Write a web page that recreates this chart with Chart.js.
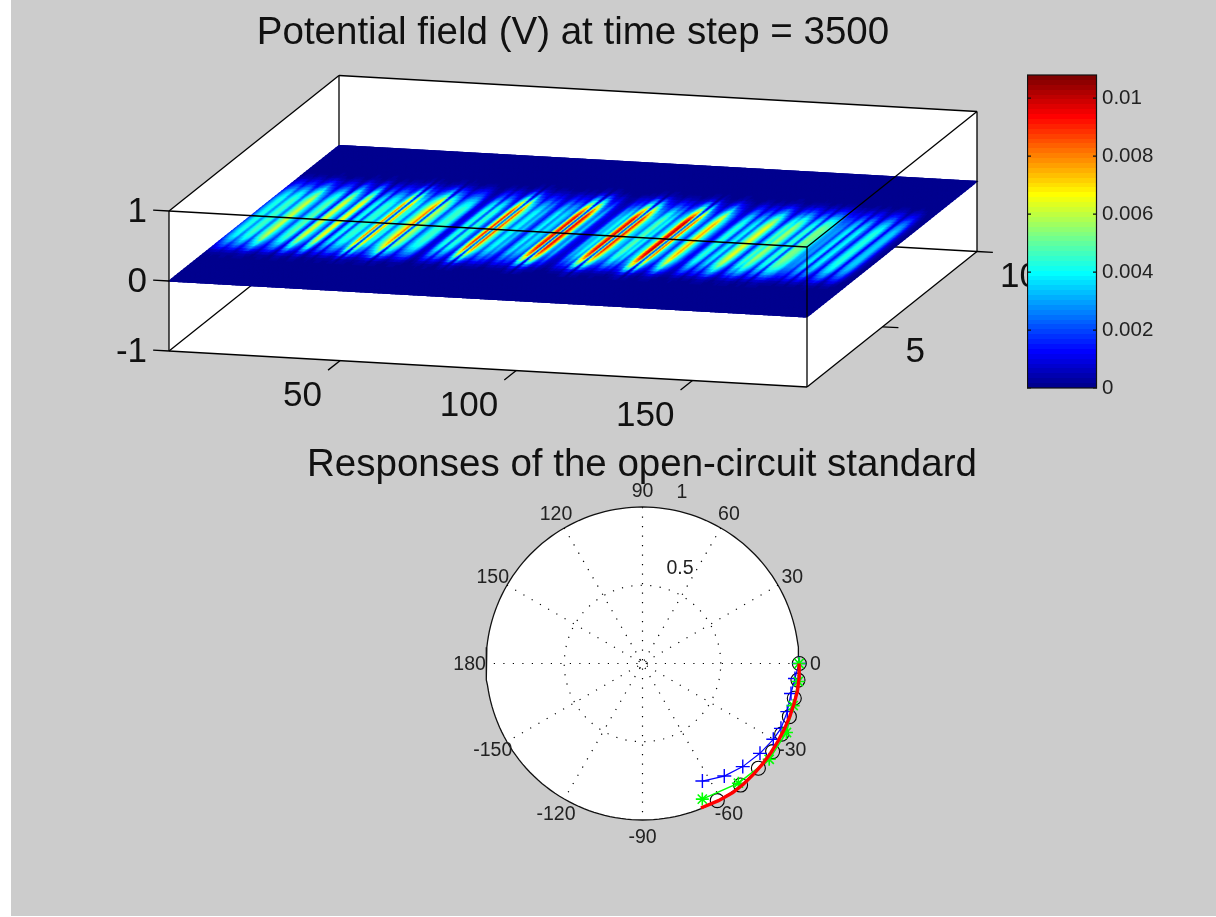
<!DOCTYPE html>
<html>
<head>
<meta charset="utf-8">
<title>Potential field</title>
<script src="https://cdn.jsdelivr.net/npm/chart.js@4"></script>
<style>
    html, body { margin: 0; padding: 0; background: #fff; }
    #page { position: absolute; left: 11px; top: 0; width: 1205px; height: 916px; background: #cccccc; }
    canvas { position: absolute; left: 0; top: 0; filter: blur(0.4px); }
    #fieldBox { position: absolute; left: 0; top: 0; width: 1146px; height: 440px; }
    #colorBox { position: absolute; left: 1027px; top: 60px; width: 150px; height: 340px; }
    #polarBox { position: absolute; left: 242px; top: 440px; width: 800px; height: 410px; }
</style>
</head>
<body>
<div id="page"></div>
<div id="fieldBox"><canvas id="fieldChart" width="1146" height="440"></canvas></div>
<div id="colorBox"><canvas id="colorChart" width="150" height="340"></canvas></div>
<div id="polarBox"><canvas id="polarChart" width="800" height="410"></canvas></div>
<script>
// Peak potential of each column along x (in mV), columns 1 to 182
var columnPeaks = [
    1.6,3.0,4.0,4.4,2.6,4.0,4.8,4.2,2.2,4.2,5.4,6.4,4.2,3.2,1.8,3.6,4.6,5.0,3.0,1.2,5.4,6.6,4.2,3.0,1.6,5.8,6.8,3.2,1.0,3.6,4.4,1.6,4.0,4.6,4.2,2.8,4.2,
    8.6,1.0,8.0,4.2,4.4,2.2,3.8,5.0,6.6,8.4,1.0,6.2,5.2,4.0,1.8,3.2,4.2,4.6,4.4,3.0,1.2,0.8,1.6,3.8,4.6,1.8,4.6,4.2,2.4,1.6,5.8,9.6,1.2,9.2,5.2,4.0,2.2,
    3.8,4.2,2.8,3.6,2.0,1.4,3.2,4.2,2.6,3.8,3.4,2.0,8.0,9.8,0.8,10,7.6,3.6,2.4,3.6,1.6,1.0,0.8,1.4,3.4,3.0,4.4,2.8,8.2,10,1.0,9.6,6.8,4.0,3.4,2.4,
    4.4,5.0,3.4,4.2,2.0,3.6,4.6,9.0,10.2,1.0,9.0,4.2,3.0,1.6,3.6,5.8,7.8,4.8,3.6,2.2,1.2,1.4,3.4,4.6,3.8,1.6,3.4,4.2,2.0,4.2,5.6,6.6,4.8,3.0,1.4,3.4,5.0,4.0,
    5.8,5.0,3.6,1.8,4.2,4.6,1.6,4.8,5.4,5.0,4.4,3.0,2.8,3.0,1.8,3.6,4.0,1.2,3.6,4.0,2.4,1.2,3.4,4.2,4.4,3.0,1.0,3.0,3.6,3.2,1.8,0.6,0.2,0.1
];
// Share of the peak reached on each row, y = 1 to 10 in steps of 0.5
var rowEnvelope = [0,0,0,0,0.08,0.55,0.9,1,1,1,1,1,0.8,0.4,0.06,0,0,0,0];

var xTicks = [50, 100, 150];
var yTicks = [5, 10];
var zTicks = [-1, 0, 1];
var colorTicks = [0, 0.002, 0.004, 0.006, 0.008, 0.01];
var colorMax = 0.0108;

// Polar responses: magnitude and angle in degrees
var openMag = [1.002, 0.999, 0.995, 0.998, 0.997, 1.004, 0.998, 0.998, 0.998];
var openAngle = [0, -6.1, -12.9, -19.9, -26.9, -34.1, -42.1, -51.1, -61.4];
var blueMag = [1.0, 0.979, 0.968, 0.975, 0.977, 0.966, 0.945, 0.919, 0.889, 0.843];
var blueAngle = [0, -5.6, -11.4, -18.4, -25.1, -30.1, -37.4, -45.8, -54, -63];
var greenMag = [1.0, 1.002, 1.0, 1.02, 1.015, 0.98, 0.947];
var greenAngle = [0, -6.6, -15.6, -25.6, -37.1, -51.3, -66.2];
var redMag = [1.0, 1.005, 1.005, 1.002, 1.0, 0.999, 0.998, 0.999, 1.0, 1.002, 1.005, 1.006, 1.002, 0.996];
var redAngle = [0, -5, -10, -15, -20, -25, -30, -35, -40, -45, -50, -55, -61, -68];

var spokeAngles = [0, 30, 60, 90, 120, 150];
var gridRadii = [0.03, 0.5];
var angleLabels = [0, 30, 60, 90, 120, 150, 180, -150, -120, -90, -60, -30];

var FONT = '"Liberation Sans", Arial, sans-serif';

Chart.defaults.animation = false;
Chart.defaults.responsive = false;
Chart.defaults.maintainAspectRatio = false;
Chart.defaults.font.family = FONT;
Chart.defaults.layout.autoPadding = false;

// MATLAB jet colormap, 64 levels
function jet(t) {
    var i = Math.min(63, Math.floor(t * 64));
    var v = (i + 1) / 64;
    function ch(c) { return Math.round(255 * Math.max(0, Math.min(1, 1.5 - Math.abs(4 * v - c)))); }
    return 'rgb(' + ch(3) + ',' + ch(2) + ',' + ch(1) + ')';
}

// ---- 3D box: oblique projection into the chart's screen-like scales ----
var xMin = 1.5, xMax = 182.5;
function project(x, y, z) {
    var fx = (x - xMin) / (xMax - xMin);
    var fy = (y - 1) / 9;
    return { x: 169 + 638 * fx + 170 * fy, y: 281 + 36 * fx - 135.5 * fy - 70 * z };
}
function edge(a, b) {
    return {
        data: [project(a[0], a[1], a[2]), project(b[0], b[1], b[2])],
        showLine: true, borderColor: '#000', borderWidth: 1.3, pointRadius: 0
    };
}
var backEdges = [
    [[xMin, 1, -1], [xMin, 10, -1]],
    [[xMin, 10, -1], [xMin, 10, 1]],
    [[xMin, 10, -1], [xMax, 10, -1]]
];
var frontEdges = [
    [[xMin, 1, 1], [xMax, 1, 1]],
    [[xMin, 1, -1], [xMax, 1, -1]],
    [[xMin, 1, -1], [xMin, 1, 1]],
    [[xMax, 1, -1], [xMax, 1, 1]],
    [[xMin, 1, 1], [xMin, 10, 1]],
    [[xMin, 10, 1], [xMax, 10, 1]],
    [[xMax, 1, 1], [xMax, 10, 1]],
    [[xMax, 1, -1], [xMax, 10, -1]],
    [[xMax, 10, -1], [xMax, 10, 1]]
];
xTicks.forEach(function(t) { frontEdges.push([[t, 1, -1], [t, 0.37, -1]]); });
yTicks.forEach(function(t) { frontEdges.push([[xMax, t, -1], [xMax + 4.5, t, -1]]); });
zTicks.forEach(function(t) { frontEdges.push([[xMin, 1, t], [xMin - 4.5, 1, t]]); });

var fieldDatasets = [];
frontEdges.forEach(function(e) { var d = edge(e[0], e[1]); d.order = 1; fieldDatasets.push(d); });
fieldDatasets.push({ isSurface: true, order: 2, pointRadius: 0, data: [project(xMin, 1, 0), project(xMax, 10, 0)] });
backEdges.forEach(function(e) { var d = edge(e[0], e[1]); d.order = 3; fieldDatasets.push(d); });

function fieldValue(cx, ry) {
    var c0 = Math.min(columnPeaks.length - 1, Math.floor(cx)), c1 = Math.min(columnPeaks.length - 1, c0 + 1);
    var r0 = Math.min(rowEnvelope.length - 1, Math.floor(ry)), r1 = Math.min(rowEnvelope.length - 1, r0 + 1);
    var peak = columnPeaks[c0] + (columnPeaks[c1] - columnPeaks[c0]) * (cx - c0);
    var share = rowEnvelope[r0] + (rowEnvelope[r1] - rowEnvelope[r0]) * (ry - r0);
    return peak * share * 0.001;
}

var surfacePlugin = {
    id: 'surface',
    beforeDatasetsDraw: function(chart) {
        // white walls of the box
        var ctx = chart.ctx, sx = chart.scales.x, sy = chart.scales.y;
        var walls = [[xMin,1,1],[xMin,10,1],[xMax,10,1],[xMax,10,-1],[xMax,1,-1],[xMin,1,-1]];
        ctx.save();
        ctx.fillStyle = '#fff';
        ctx.beginPath();
        walls.forEach(function(w, i) {
            var p = project(w[0], w[1], w[2]);
            if (i === 0) ctx.moveTo(sx.getPixelForValue(p.x), sy.getPixelForValue(p.y));
            else ctx.lineTo(sx.getPixelForValue(p.x), sy.getPixelForValue(p.y));
        });
        ctx.closePath();
        ctx.fill();
        ctx.restore();
    },
    afterDatasetDraw: function(chart, args) {
        if (!chart.data.datasets[args.index].isSurface) return;
        var ctx = chart.ctx, sx = chart.scales.x, sy = chart.scales.y;
        var subCols = 3, subRows = 3;
        var nc = (columnPeaks.length - 1) * subCols, nr = (rowEnvelope.length - 1) * subRows;
        function pix(i, j) {
            var x = xMin + (xMax - xMin) * i / nc, y = 1 + 9 * j / nr;
            var p = project(x, y, 0);
            return [sx.getPixelForValue(p.x), sy.getPixelForValue(p.y)];
        }
        ctx.save();
        ctx.lineWidth = 1.2;
        for (var i = 0; i < nc; i++) {
            for (var j = 0; j < nr; j++) {
                var v = fieldValue((i + 0.5) / subCols, (j + 0.5) / subRows);
                var c = jet(Math.min(0.999, v / colorMax));
                var a = pix(i, j), b = pix(i + 1, j), d = pix(i + 1, j + 1), e = pix(i, j + 1);
                ctx.fillStyle = c;
                ctx.strokeStyle = c;
                ctx.beginPath();
                ctx.moveTo(a[0], a[1]);
                ctx.lineTo(b[0], b[1]);
                ctx.lineTo(d[0], d[1]);
                ctx.lineTo(e[0], e[1]);
                ctx.closePath();
                ctx.fill();
                ctx.stroke();
            }
        }
        ctx.restore();
    },
    afterDraw: function(chart) {
        // tick labels of the three box axes
        var ctx = chart.ctx, sx = chart.scales.x, sy = chart.scales.y;
        function label(text, p, dx, dy, align) {
            ctx.textAlign = align;
            ctx.fillText(text, sx.getPixelForValue(p.x) + dx, sy.getPixelForValue(p.y) + dy);
        }
        ctx.save();
        ctx.font = '35px ' + FONT;
        ctx.fillStyle = '#111';
        ctx.textBaseline = 'middle';
        xTicks.forEach(function(t) { label(String(t), project(t, 1, -1), -18, 36, 'right'); });
        yTicks.forEach(function(t) { label(String(t), project(xMax, t, -1), 23, 26, 'left'); });
        zTicks.forEach(function(t) { label(String(t), project(xMin, 1, t), -22, 1, 'right'); });
        ctx.restore();
    }
};

new Chart(document.getElementById('fieldChart'), {
    type: 'scatter',
    data: { datasets: fieldDatasets },
    options: {
        layout: { padding: 0 },
        plugins: {
            legend: { display: false },
            tooltip: { enabled: false },
            title: {
                display: true,
                text: 'Potential field (V) at time step = 3500',
                color: '#111',
                font: { size: 38.5, weight: 'normal', lineHeight: '40px' },
                padding: { top: 13, bottom: 7 }
            }
        },
        scales: {
            x: { type: 'linear', display: false, min: 0, max: 1146 },
            y: { type: 'linear', display: false, min: 60, max: 440, reverse: true }
        }
    },
    plugins: [surfacePlugin]
});

// ---- Colorbar ----
var colorLevels = [];
for (var k = 0; k < 64; k++) colorLevels.push(jet((k + 0.5) / 64));

var colorbarPlugin = {
    id: 'colorbarFrame',
    afterDatasetsDraw: function(chart) {
        var ctx = chart.ctx, area = chart.chartArea, sy = chart.scales.y;
        ctx.save();
        ctx.strokeStyle = '#111';
        ctx.lineWidth = 1.2;
        ctx.strokeRect(area.left + 0.5, area.top, area.width - 1, area.height);
        ctx.beginPath();
        colorTicks.forEach(function(t) {
            var py = sy.getPixelForValue(t);
            ctx.moveTo(area.left, py);
            ctx.lineTo(area.left + 4, py);
            ctx.moveTo(area.right - 4, py);
            ctx.lineTo(area.right, py);
        });
        ctx.stroke();
        ctx.restore();
    }
};

new Chart(document.getElementById('colorChart'), {
    type: 'bar',
    data: {
        labels: ['V'],
        datasets: [{
            data: [[0, colorMax]],
            barPercentage: 1,
            categoryPercentage: 1,
            backgroundColor: function(context) {
                var area = context.chart.chartArea;
                if (!area) return '#000080';
                var g = context.chart.ctx.createLinearGradient(0, area.bottom, 0, area.top);
                colorLevels.forEach(function(c, i) {
                    g.addColorStop(i / 64, c);
                    g.addColorStop((i + 1) / 64, c);
                });
                return g;
            }
        }]
    },
    options: {
        layout: { padding: { top: 15, bottom: 12 } },
        plugins: { legend: { display: false }, tooltip: { enabled: false } },
        scales: {
            x: { display: false },
            y: {
                position: 'right',
                min: 0,
                max: colorMax,
                grid: { display: false },
                border: { display: false },
                afterBuildTicks: function(axis) {
                    axis.ticks = colorTicks.map(function(t) { return { value: t }; });
                },
                afterFit: function(axis) {
                    axis.width = 80;
                    axis.paddingTop = 0;
                    axis.paddingBottom = 0;
                },
                ticks: {
                    color: '#222',
                    padding: -3,
                    autoSkip: false,
                    font: { size: 20.5 },
                    callback: function(value) { return String(value); }
                }
            }
        }
    },
    plugins: [colorbarPlugin]
});

// ---- Polar plot ----
var polarCx = 642.5, polarCy = 663.5, polarR = 156.5;
var polarLeft = 242, polarTop = 440, polarW = 800, polarH = 410, polarTitle = 50;

function toXY(mags, angles) {
    return mags.map(function(m, i) {
        var a = angles[i] * Math.PI / 180;
        return { x: m * Math.cos(a), y: m * Math.sin(a) };
    });
}
function ring(r) {
    var pts = [];
    for (var a = 0; a <= 360; a += 2) {
        pts.push({ x: r * Math.cos(a * Math.PI / 180), y: r * Math.sin(a * Math.PI / 180) });
    }
    return pts;
}

var polarDatasets = [
    { data: toXY(redMag, redAngle), showLine: true, borderColor: '#ff0000', borderWidth: 3.4, pointRadius: 0, order: 1 },
    { data: toXY(greenMag, greenAngle), showLine: true, borderColor: '#00ff00', borderWidth: 1.5, pointStyle: 'star', pointRadius: 6.5, pointBorderColor: '#00ff00', pointBorderWidth: 1.6, order: 2 },
    { data: toXY(blueMag, blueAngle), showLine: true, borderColor: '#0000ff', borderWidth: 1.2, pointStyle: 'cross', pointRadius: 7, pointBorderColor: '#0000ff', pointBorderWidth: 1.4, order: 3 },
    { data: toXY(openMag, openAngle), showLine: false, pointStyle: 'circle', pointRadius: 7, pointBorderColor: '#000', pointBackgroundColor: 'rgba(0,0,0,0)', pointBorderWidth: 1.1, order: 4 },
    { data: ring(1), showLine: true, borderColor: '#111', borderWidth: 1.3, pointRadius: 0, order: 5 }
];
gridRadii.forEach(function(r) {
    polarDatasets.push({ data: ring(r), showLine: true, borderColor: '#000', borderWidth: 1.2, borderDash: [1.2, 8.3], pointRadius: 0, order: 6 });
});
spokeAngles.forEach(function(a) {
    polarDatasets.push({
        data: toXY([1, 1], [a, a + 180]),
        showLine: true, borderColor: '#000', borderWidth: 1.2, borderDash: [1.2, 8.3], pointRadius: 0, order: 6
    });
});

var polarPlugin = {
    id: 'polarFrame',
    beforeDatasetsDraw: function(chart) {
        var ctx = chart.ctx, sx = chart.scales.x, sy = chart.scales.y;
        ctx.save();
        ctx.fillStyle = '#fff';
        ctx.beginPath();
        ctx.arc(sx.getPixelForValue(0), sy.getPixelForValue(0), sx.getPixelForValue(1) - sx.getPixelForValue(0), 0, Math.PI * 2);
        ctx.fill();
        ctx.restore();
    },
    afterDraw: function(chart) {
        var ctx = chart.ctx, sx = chart.scales.x, sy = chart.scales.y;
        ctx.save();
        ctx.font = '19.5px ' + FONT;
        ctx.fillStyle = '#222';
        ctx.textAlign = 'center';
        ctx.textBaseline = 'middle';
        angleLabels.forEach(function(a) {
            var t = a * Math.PI / 180;
            ctx.fillText(String(a), sx.getPixelForValue(1.105 * Math.cos(t)), sy.getPixelForValue(1.105 * Math.sin(t)) + 1);
        });
        ctx.fillText('0.5', sx.getPixelForValue(0.24), sy.getPixelForValue(0.61) + 1);
        ctx.fillText('1', sx.getPixelForValue(0.252), sy.getPixelForValue(1.096) + 1);
        ctx.restore();
    }
};

new Chart(document.getElementById('polarChart'), {
    type: 'scatter',
    data: { datasets: polarDatasets },
    options: {
        layout: { padding: 0 },
        plugins: {
            legend: { display: false },
            tooltip: { enabled: false },
            title: {
                display: true,
                text: 'Responses of the open-circuit standard',
                color: '#111',
                font: { size: 38.5, weight: 'normal', lineHeight: '40px' },
                padding: { top: 5, bottom: 5 }
            }
        },
        scales: {
            x: { type: 'linear', display: false, min: (polarLeft - polarCx) / polarR, max: (polarLeft + polarW - polarCx) / polarR },
            y: { type: 'linear', display: false, min: (polarCy - polarTop - polarH) / polarR, max: (polarCy - polarTop - polarTitle) / polarR }
        }
    },
    plugins: [polarPlugin]
});
</script>
</body>
</html>
